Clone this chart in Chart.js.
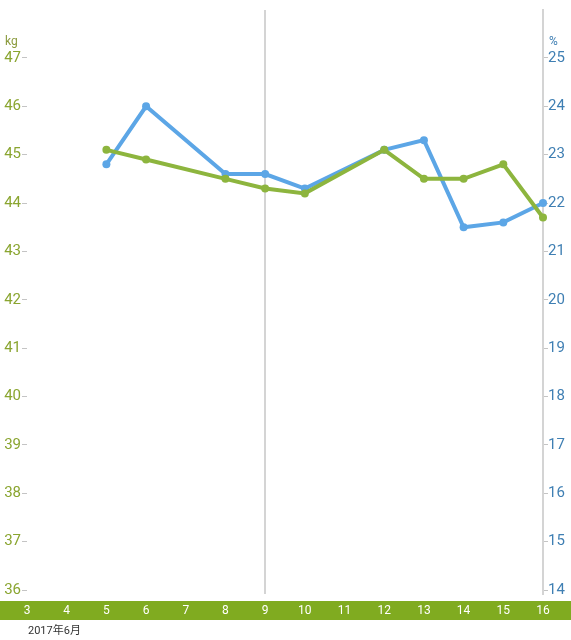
<!DOCTYPE html>
<html>
<head>
<meta charset="utf-8">
<script src="https://cdn.jsdelivr.net/npm/chart.js@4"></script>
<style>
  html, body { margin: 0; padding: 0; background: #fff; }
  #wrap { width: 571px; height: 640px; }
</style>
</head>
<body>
<div id="wrap"><canvas id="chart" width="571" height="640"></canvas></div>
<script>
// days of June 2017
var days = ['3', '4', '5', '6', '7', '8', '9', '10', '11', '12', '13', '14', '15', '16'];
// weight (kg), null = no measurement
var weight = [null, null, 45.1, 44.9, null, 44.5, 44.3, 44.2, null, 45.1, 44.5, 44.5, 44.8, 43.7];
// body fat (%)
var fat = [null, null, 22.8, 24.0, null, 22.6, 22.6, 22.3, null, 23.1, 23.3, 21.5, 21.6, 22.0];
var kgTicks = [36, 37, 38, 39, 40, 41, 42, 43, 44, 45, 46, 47];
var pctTicks = [14, 15, 16, 17, 18, 19, 20, 21, 22, 23, 24, 25];
var monthLabel = '2017年6月';
var markedDay = '9';

var GREEN = '#8db53e';
var BAND = '#80ab20';
var BLUE = '#5ca6e6';
var FONT = 'Roboto, "Noto Sans CJK JP", sans-serif';

var extras = {
    id: 'extras',
    beforeDraw: function(chart) {
        var ctx = chart.ctx;
        var x = chart.scales.x;
        ctx.save();
        ctx.fillStyle = BAND;
        ctx.fillRect(0, x.top + 7, chart.width, 19);
        ctx.restore();
    },
    afterDraw: function(chart) {
        var ctx = chart.ctx;
        var x = chart.scales.x, y = chart.scales.y, y2 = chart.scales.y2;
        ctx.save();
        ctx.font = '12px ' + FONT;
        ctx.textBaseline = 'alphabetic';
        ctx.fillStyle = '#8a9a3c';
        ctx.textAlign = 'left';
        ctx.fillText('kg', 5, y.getPixelForValue(47) - 13);
        ctx.fillStyle = '#3f7fb3';
        ctx.fillText('%', 549, y2.getPixelForValue(25) - 13);
        ctx.fillStyle = '#333';
        ctx.font = '11px ' + FONT;
        ctx.fillText(monthLabel, 28, x.top + 40);
        ctx.restore();
    }
};

new Chart(document.getElementById('chart'), {
    type: 'line',
    data: {
        labels: days,
        datasets: [
            { label: 'kg', data: weight, yAxisID: 'y', borderColor: GREEN, backgroundColor: GREEN,
              pointBackgroundColor: GREEN, borderWidth: 4, pointRadius: 4, pointBorderWidth: 0, spanGaps: true, tension: 0 },
            { label: '%', data: fat, yAxisID: 'y2', borderColor: BLUE, backgroundColor: BLUE,
              pointBackgroundColor: BLUE, borderWidth: 4, pointRadius: 4, pointBorderWidth: 0, spanGaps: true, tension: 0 }
        ]
    },
    options: {
        responsive: false,
        animation: false,
        layout: { padding: { top: 8, left: 0, right: 0, bottom: 0 } },
        plugins: { legend: { display: false }, tooltip: { enabled: false } },
        scales: {
            x: {
                offset: false,
                grid: {
                    drawTicks: false,
                    lineWidth: 2,
                    color: function(c) { return days[c.index] === markedDay ? '#d4d4d4' : 'rgba(0,0,0,0)'; }
                },
                border: { display: false },
                ticks: { color: '#fff', padding: 10, font: { size: 12, family: FONT }, maxRotation: 0, autoSkip: false },
                afterFit: function(s) { s.width = s.width; s.height = 46; }
            },
            y: {
                position: 'left',
                min: 35.92, max: 47.99,
                afterBuildTicks: function(s) { s.ticks = kgTicks.map(function(v) { return { value: v }; }); },
                grid: { drawOnChartArea: false, tickLength: 5, color: '#c4c4c4' },
                border: { display: false },
                ticks: { color: '#8aa530', padding: 1, font: { size: 15, family: FONT } },
                afterFit: function(s) { s.width = 27; }
            },
            y2: {
                position: 'right',
                min: 13.92, max: 25.99,
                afterBuildTicks: function(s) { s.ticks = pctTicks.map(function(v) { return { value: v }; }); },
                grid: { drawOnChartArea: false, tickLength: 5, color: '#c4c4c4' },
                border: { display: true, color: '#d4d4d4', width: 2 },
                ticks: { color: '#3f7fb3', padding: 0, font: { size: 15, family: FONT } },
                afterFit: function(s) { s.width = 28; }
            }
        }
    },
    plugins: [extras]
});
</script>
</body>
</html>
